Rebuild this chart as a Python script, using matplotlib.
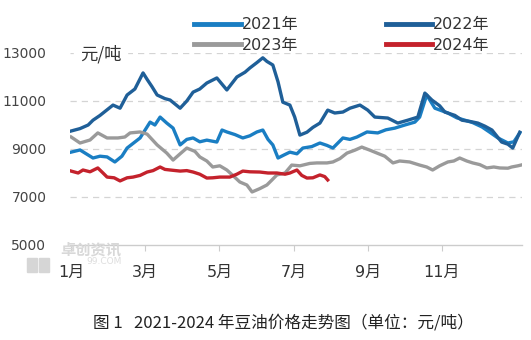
import matplotlib
matplotlib.use("Agg")
import matplotlib.pyplot as plt
from matplotlib.patches import Rectangle

plt.rcParams['font.family'] = ['DejaVu Sans', 'Noto Sans CJK SC']

# x positions in month units (1 = start of Jan), values in yuan/ton
x2021 = [1.00, 1.24, 1.59, 1.78, 1.97, 2.18, 2.37, 2.51, 2.86, 3.13, 3.26, 3.40, 3.58, 3.75,
         3.94, 4.12, 4.29, 4.47, 4.66, 4.93, 5.07, 5.20, 5.42, 5.63, 5.82, 6.01, 6.17, 6.31,
         6.44, 6.58, 6.74, 6.90, 7.09, 7.25, 7.49, 7.71, 7.90, 8.06, 8.33, 8.52, 8.71, 8.98,
         9.27, 9.49, 9.73, 10.00, 10.27, 10.40, 10.59, 10.81, 11.16, 11.40, 11.62, 11.83,
         12.08, 12.29, 12.51, 12.78, 12.94, 13.10]
y2021 = [8870, 8960, 8625, 8700, 8670, 8460, 8700, 9040, 9460, 10120, 10000, 10330, 10080, 9870,
         9170, 9400, 9460, 9300, 9370, 9290, 9790, 9710, 9600, 9460, 9550, 9710, 9790, 9400,
         9170, 8625, 8750, 8870, 8800, 9040, 9100, 9250, 9150, 9040, 9460, 9400, 9500, 9710,
         9670, 9800, 9870, 10000, 10120, 10330, 11250, 10700, 10500, 10300, 10200, 10100,
         9920, 9700, 9460, 9250, 9300, 9670]

x2022 = [1.00, 1.24, 1.46, 1.59, 1.78, 2.13, 2.32, 2.51, 2.72, 2.94, 3.05, 3.18, 3.32, 3.53,
         3.67, 3.94, 4.12, 4.29, 4.47, 4.66, 4.93, 5.20, 5.47, 5.69, 5.82, 6.01, 6.17, 6.28,
         6.44, 6.58, 6.71, 6.90, 7.03, 7.17, 7.36, 7.52, 7.71, 7.92, 8.11, 8.33, 8.52, 8.79,
         9.00, 9.19, 9.54, 9.81, 10.08, 10.35, 10.54, 10.73, 10.94, 11.08, 11.35, 11.54, 11.75,
         11.97, 12.16, 12.35, 12.61, 12.78, 12.91, 13.10]
y2022 = [9750, 9850, 10000, 10200, 10400, 10830, 10700, 11250, 11500, 12170, 11900, 11600, 11250, 11100,
         11040, 10700, 11000, 11370, 11500, 11750, 11960, 11460, 12000, 12200, 12375, 12600, 12800, 12650,
         12500, 11800, 10950, 10830, 10330, 9580, 9700, 9900, 10080, 10620, 10500, 10540, 10700, 10830,
         10620, 10330, 10290, 10080, 10200, 10330, 11330, 11040, 10800, 10540, 10400, 10200, 10150,
         10080, 9950, 9790, 9290, 9200, 9040, 9700]

x2023 = [1.00, 1.24, 1.51, 1.72, 1.97, 2.26, 2.45, 2.59, 2.86, 3.05, 3.32, 3.58, 3.75, 3.94,
         4.12, 4.34, 4.47, 4.66, 4.82, 5.01, 5.20, 5.36, 5.55, 5.74, 5.88, 6.09, 6.28, 6.41,
         6.55, 6.77, 6.95, 7.17, 7.44, 7.63, 7.90, 8.06, 8.25, 8.44, 8.65, 8.84, 9.06, 9.25,
         9.46, 9.68, 9.86, 10.13, 10.40, 10.59, 10.75, 10.94, 11.16, 11.32, 11.48, 11.67, 11.83,
         12.02, 12.21, 12.40, 12.56, 12.78, 12.88, 13.05, 13.13]
y2023 = [9500, 9250, 9375, 9670, 9460, 9460, 9500, 9670, 9710, 9620, 9170, 8830, 8540, 8800,
         9040, 8900, 8670, 8500, 8250, 8300, 8125, 7900, 7625, 7500, 7210, 7350, 7500, 7700,
         7920, 8000, 8330, 8300, 8400, 8420, 8420, 8460, 8600, 8830, 8950, 9080, 8950, 8830,
         8700, 8420, 8500, 8460, 8330, 8250, 8125, 8300, 8460, 8500, 8625, 8500, 8420,
         8350, 8210, 8250, 8210, 8200, 8250, 8300, 8330]

x2024 = [1.00, 1.19, 1.32, 1.51, 1.72, 1.86, 1.97, 2.16, 2.32, 2.51, 2.67, 2.86, 3.05, 3.21,
         3.40, 3.53, 3.67, 3.94, 4.12, 4.29, 4.47, 4.66, 4.82, 5.01, 5.28, 5.47, 5.63, 5.82,
         6.09, 6.31, 6.55, 6.77, 6.90, 7.09, 7.22, 7.36, 7.52, 7.71, 7.84, 7.92]
y2024 = [8080, 8000, 8125, 8050, 8210, 8000, 7830, 7800, 7670, 7800, 7830, 7900, 8040, 8100,
         8250, 8150, 8125, 8080, 8100, 8040, 7950, 7790, 7800, 7830, 7830, 7950, 8080, 8050,
         8040, 8000, 8000, 7950, 8000, 8125, 7900, 7790, 7800, 7920, 7850, 7710]

month_ticks = [1, 3, 5, 7, 9, 11]
month_labels = ['1月', '3月', '5月', '7月', '9月', '11月']
y_ticks = [5000, 7000, 9000, 11000, 13000]

fig = plt.figure(figsize=(5.31, 3.40), dpi=100)
ax = fig.add_axes([70/531, 95/340, 452/531, 192/340])

series = [
    (x2021, y2021, '#1a7ec3', '2021年'),
    (x2022, y2022, '#1f5f98', '2022年'),
    (x2023, y2023, '#9a9a9a', '2023年'),
    (x2024, y2024, '#c4222c', '2024年'),
]
lines = []
for xs, ys, c, lab in series:
    ln, = ax.plot(xs, ys, color=c, lw=2.4, label=lab, solid_joinstyle='round', zorder=3)
    lines.append(ln)

ax.set_xlim(0.97, 13.16)
ax.set_ylim(5000, 13000)
ax.set_yticks(y_ticks)
ax.set_yticklabels([str(v) for v in y_ticks])
ax.set_xticks(month_ticks)
ax.set_xticklabels(month_labels, fontsize=11.5, color='#333333')
ax.tick_params(axis='y', length=0, pad=17, labelsize=10, labelcolor='#444444')
ax.tick_params(axis='x', length=4, width=0.8, color='#cccccc', pad=10)
for yv in y_ticks[1:]:
    ax.axhline(yv, color='#d4d4d4', lw=0.9, ls=(0, (5, 4)), zorder=1)
for s in ['top', 'right', 'left']:
    ax.spines[s].set_visible(False)
ax.spines['bottom'].set_color('#cccccc')
ax.spines['bottom'].set_linewidth(1.0)

# unit label sitting on the top gridline
fig.text(80/531, 1 - 54/340, '元/吨', fontsize=12.5, color='#333333',
         ha='left', va='center', backgroundcolor='white', zorder=4,
         fontfamily=['Noto Sans CJK SC', 'DejaVu Sans'])

# legend, two rows x two columns above the plot (column-major order)
handles = [lines[0], lines[2], lines[1], lines[3]]
leg = fig.legend(handles=handles, loc='upper left', bbox_to_anchor=(180/531, 1 - 3/340), ncol=2,
                 frameon=False, fontsize=11.5, handlelength=2.9, handletextpad=0.05,
                 columnspacing=5.5, labelspacing=0.35, labelcolor='#333333')
for h in leg.get_lines():
    h.set_linewidth(3.5)

# watermark
fig.text(60/531, 1 - 249/340, '卓创资讯', fontsize=11, color='#d8d8d8', ha='left', va='center',
         fontfamily=['Noto Sans CJK SC'], fontweight='bold', zorder=0)
fig.text(86/531, 1 - 262/340, '99.COM', fontsize=6.5, color='#dddddd', ha='left', va='center', zorder=0)
fig.patches.append(Rectangle((27/531, 1 - 272/340), 10/531, 14/340, transform=fig.transFigure,
                             color='#d6d6d6', zorder=0))
fig.patches.append(Rectangle((39/531, 1 - 272/340), 10/531, 14/340, transform=fig.transFigure,
                             color='#d6d6d6', zorder=0))

fig.text(283/531, 1 - 323/340, '图 1   2021-2024 年豆油价格走势图（单位：元/吨）', fontsize=12,
         color='#222222', ha='center', va='center',
         fontfamily=['Noto Sans CJK SC', 'DejaVu Sans'])

fig.savefig('out.png', dpi=100, facecolor='white')
